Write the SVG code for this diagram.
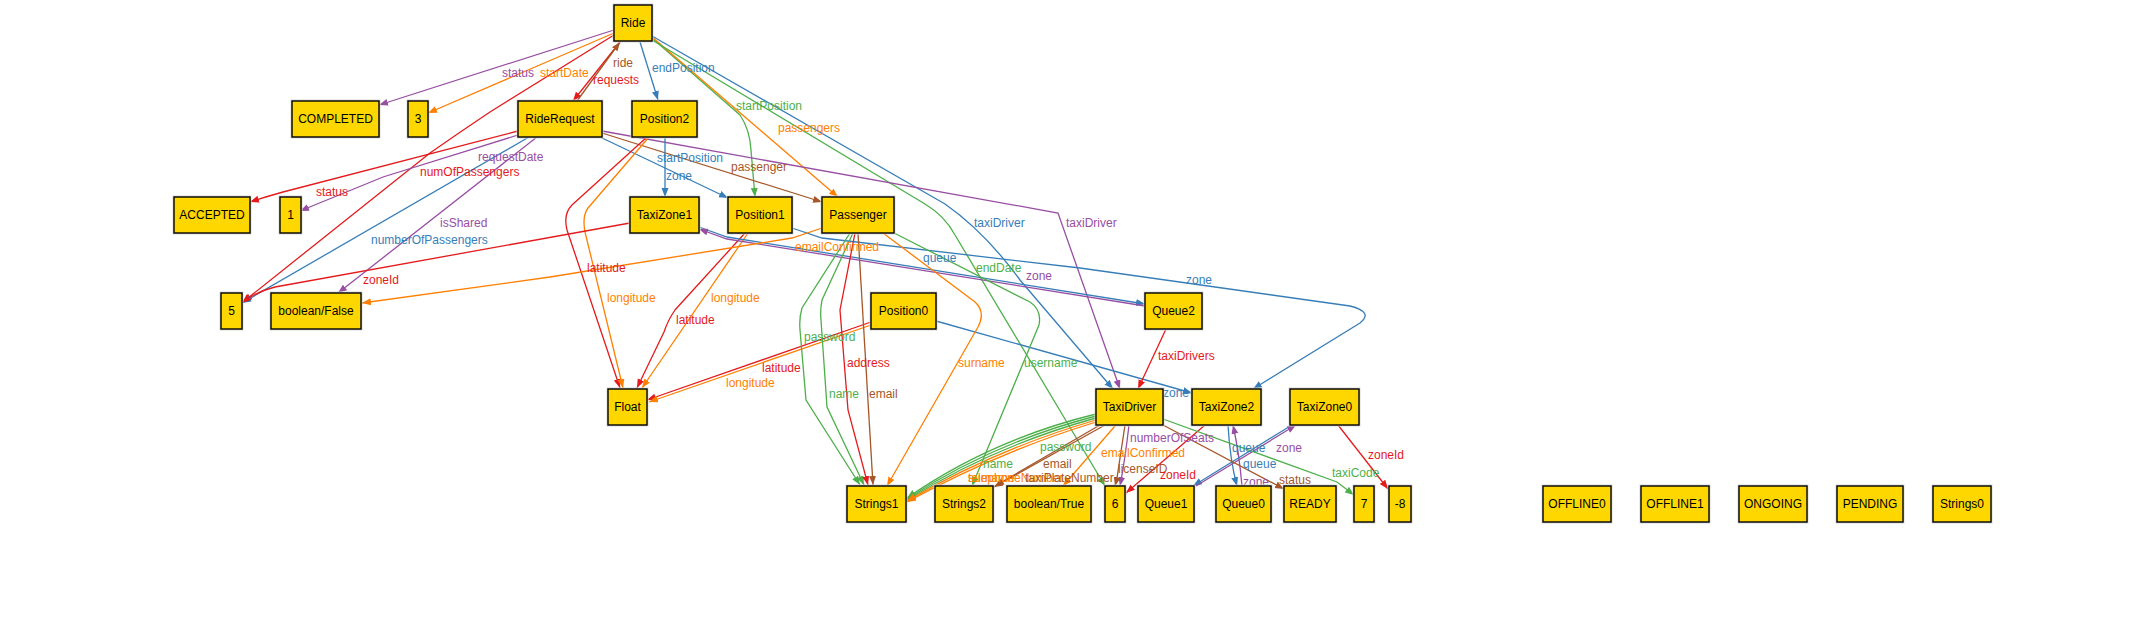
<svg xmlns="http://www.w3.org/2000/svg" width="2135" height="622" viewBox="0 0 2135 622">
<style>
.n rect.sh{fill:none;stroke:#d8d8d8;stroke-width:3}
.n rect.bx{fill:#FFD700;stroke:#000;stroke-width:1.4}
.n text{font-family:"Liberation Sans",Arial,sans-serif;font-size:12px;fill:#000;text-anchor:middle}
.e path{fill:none;stroke-width:1.3}
.l{font-family:"Liberation Sans",Arial,sans-serif;font-size:12px}
.pu{stroke:#984EA3}.or{stroke:#FF7F00}.re{stroke:#E41A1C}.bl{stroke:#377EB8}.gr{stroke:#4DAF4A}.br{stroke:#A65628}
.tpu{fill:#984EA3}.tor{fill:#FF7F00}.tre{fill:#E41A1C}.tbl{fill:#377EB8}.tgr{fill:#4DAF4A}.tbr{fill:#A65628}
</style>
<defs>
<marker id="apu" markerUnits="userSpaceOnUse" markerWidth="10" markerHeight="8" refX="9" refY="3.5" orient="auto"><path d="M0,0 L9,3.5 L0,7 z" fill="#984EA3"/></marker>
<marker id="aor" markerUnits="userSpaceOnUse" markerWidth="10" markerHeight="8" refX="9" refY="3.5" orient="auto"><path d="M0,0 L9,3.5 L0,7 z" fill="#FF7F00"/></marker>
<marker id="are" markerUnits="userSpaceOnUse" markerWidth="10" markerHeight="8" refX="9" refY="3.5" orient="auto"><path d="M0,0 L9,3.5 L0,7 z" fill="#E41A1C"/></marker>
<marker id="abl" markerUnits="userSpaceOnUse" markerWidth="10" markerHeight="8" refX="9" refY="3.5" orient="auto"><path d="M0,0 L9,3.5 L0,7 z" fill="#377EB8"/></marker>
<marker id="agr" markerUnits="userSpaceOnUse" markerWidth="10" markerHeight="8" refX="9" refY="3.5" orient="auto"><path d="M0,0 L9,3.5 L0,7 z" fill="#4DAF4A"/></marker>
<marker id="abr" markerUnits="userSpaceOnUse" markerWidth="10" markerHeight="8" refX="9" refY="3.5" orient="auto"><path d="M0,0 L9,3.5 L0,7 z" fill="#A65628"/></marker>
</defs>
<rect width="2135" height="622" fill="#fff"/>

<g id="connectors" class="e">
<path class="pu" marker-end="url(#apu)" d="M614,30 L379,105"/>
<path class="or" marker-end="url(#aor)" d="M614,33 L428,113"/>
<path class="re" marker-end="url(#are)" d="M620,42 L573,101"/>
<path class="br" marker-end="url(#abr)" d="M577,101 L620,42"/>
<path class="re" marker-end="url(#are)" d="M614,35 L490,112 Q460,132 430,153 L243,302"/>
<path class="bl" marker-end="url(#abl)" d="M640,42 L658,100"/>
<path class="gr" marker-end="url(#agr)" d="M652,38 L740,115 Q750,130 751,150 L755,197"/>
<path class="or" marker-end="url(#aor)" d="M652,37 L838,197"/>
<path class="bl" marker-end="url(#abl)" d="M652,36 L945,204 Q985,232 1020,280 L1113,389"/>
<path class="gr" marker-end="url(#agr)" d="M652,40 L925,204 Q945,216 955,235 L1105,486"/>
<path class="re" marker-end="url(#are)" d="M518,131 L283,192 Q265,197 250,202"/>
<path class="pu" marker-end="url(#apu)" d="M518,135 L383,177 L300,211"/>
<path class="bl" marker-end="url(#abl)" d="M529,137 L242,303"/>
<path class="pu" marker-end="url(#apu)" d="M537,137 L338,293"/>
<path class="bl" marker-end="url(#abl)" d="M600,137 L728,198"/>
<path class="br" marker-end="url(#abr)" d="M602,133 L822,202"/>
<path class="pu" marker-end="url(#apu)" d="M602,131 L1058,213 L1120,389"/>
<path class="bl" marker-end="url(#abl)" d="M665,137 L665,197"/>
<path class="re" marker-end="url(#are)" d="M647,137 L572,205 Q563,214 567,230 L620,388"/>
<path class="or" marker-end="url(#aor)" d="M649,137 L588,208 Q582,216 585,232 L623,388"/>
<path class="re" marker-end="url(#are)" d="M745,233 L675,310 Q668,320 664,332 L637,388"/>
<path class="or" marker-end="url(#aor)" d="M748,233 L642,388"/>
<path class="re" marker-end="url(#are)" d="M871,322 L647,400"/>
<path class="or" marker-end="url(#aor)" d="M871,325 L649,402"/>
<path class="bl" marker-end="url(#abl)" d="M936,321 L1192,393"/>
<path class="bl" marker-end="url(#abl)" d="M792,228 L822,238 L1080,268 L1350,306 Q1374,312 1360,323 L1253,389"/>
<path class="bl" marker-end="url(#abl)" d="M699,227 L727,237 L1145,304"/>
<path class="pu" marker-end="url(#apu)" d="M1145,306 L727,239 L699,229"/>
<path class="re" marker-end="url(#are)" d="M1166,329 L1138,389"/>
<path class="bl" marker-end="url(#abl)" d="M1228,425 Q1230,460 1237,486"/>
<path class="pu" marker-end="url(#apu)" d="M1242,486 Q1239,452 1233,425"/>
<path class="bl" marker-end="url(#abl)" d="M1292,425 L1193,486"/>
<path class="pu" marker-end="url(#apu)" d="M1196,486 L1296,425"/>
<path class="re" marker-end="url(#are)" d="M1338,425 L1388,489"/>
<path class="re" marker-end="url(#are)" d="M1205,425 L1126,493"/>
<path class="re" marker-end="url(#are)" d="M630,223 L275,287 Q255,292 242,303"/>
<path class="or" marker-end="url(#aor)" d="M822,228 L792,238 L550,277 L362,303"/>
<path class="gr" marker-end="url(#agr)" d="M850,233 L802,308 Q799,318 800,330 L806,400 L860,485"/>
<path class="gr" marker-end="url(#agr)" d="M853,233 L822,300 Q820,310 821,320 L827,407 L864,485"/>
<path class="re" marker-end="url(#are)" d="M855,233 L840,310 L848,410 L868,485"/>
<path class="br" marker-end="url(#abr)" d="M858,233 L873,485"/>
<path class="or" marker-end="url(#aor)" d="M883,233 L975,302 Q986,312 978,327 L887,486"/>
<path class="gr" marker-end="url(#agr)" d="M894,233 L1030,302 Q1042,310 1039,325 L972,486"/>
<path class="gr" marker-end="url(#agr)" d="M1096,414 Q990,440 907,498"/>
<path class="gr" marker-end="url(#agr)" d="M1096,416 Q992,443 907,499"/>
<path class="gr" marker-end="url(#agr)" d="M1096,418 Q994,446 907,500"/>
<path class="or" marker-end="url(#aor)" d="M1096,420 Q996,449 907,501"/>
<path class="or" marker-end="url(#aor)" d="M1096,422 Q998,452 907,502"/>
<path class="br" marker-end="url(#abr)" d="M1100,425 L995,486"/>
<path class="br" marker-end="url(#abr)" d="M1105,425 L994,487"/>
<path class="or" marker-end="url(#aor)" d="M1115,426 L1063,486"/>
<path class="pu" marker-end="url(#apu)" d="M1129,425 Q1125,460 1120,486"/>
<path class="br" marker-end="url(#abr)" d="M1125,425 L1117,478 L1115,486"/>
<path class="br" marker-end="url(#abr)" d="M1163,425 L1284,489"/>
<path class="gr" marker-end="url(#agr)" d="M1163,419 L1337,482 L1354,495"/>
</g>

<g id="edge-labels" class="l">
<text class="tpu" x="502" y="77">status</text>
<text class="tor" x="540" y="77">startDate</text>
<text class="tbr" x="613" y="67">ride</text>
<text class="tre" x="593" y="84">requests</text>
<text class="tbl" x="652" y="72">endPosition</text>
<text class="tgr" x="736" y="110">startPosition</text>
<text class="tor" x="778" y="132">passengers</text>
<text class="tre" x="420" y="176">numOfPassengers</text>
<text class="tpu" x="478" y="161">requestDate</text>
<text class="tre" x="316" y="196">status</text>
<text class="tbl" x="657" y="162">startPosition</text>
<text class="tbl" x="666" y="180">zone</text>
<text class="tbr" x="731" y="171">passenger</text>
<text class="tpu" x="440" y="227">isShared</text>
<text class="tbl" x="371" y="244">numberOfPassengers</text>
<text class="tbl" x="974" y="227">taxiDriver</text>
<text class="tpu" x="1066" y="227">taxiDriver</text>
<text class="tor" x="795" y="251">emailConfirmed</text>
<text class="tbl" x="923" y="262">queue</text>
<text class="tgr" x="976" y="272">endDate</text>
<text class="tpu" x="1026" y="280">zone</text>
<text class="tbl" x="1186" y="284">zone</text>
<text class="tre" x="363" y="284">zoneId</text>
<text class="tre" x="587" y="272">latitude</text>
<text class="tor" x="607" y="302">longitude</text>
<text class="tor" x="711" y="302">longitude</text>
<text class="tre" x="676" y="324">latitude</text>
<text class="tgr" x="804" y="341">password</text>
<text class="tre" x="847" y="367">address</text>
<text class="tor" x="958" y="367">surname</text>
<text class="tgr" x="1024" y="367">username</text>
<text class="tre" x="1158" y="360">taxiDrivers</text>
<text class="tre" x="762" y="372">latitude</text>
<text class="tor" x="726" y="387">longitude</text>
<text class="tgr" x="829" y="398">name</text>
<text class="tbr" x="869" y="398">email</text>
<text class="tbl" x="1163" y="397">zone</text>
<text class="tpu" x="1130" y="442">numberOfSeats</text>
<text class="tgr" x="1040" y="451">password</text>
<text class="tor" x="1101" y="457">emailConfirmed</text>
<text class="tbl" x="1232" y="452">queue</text>
<text class="tpu" x="1276" y="452">zone</text>
<text class="tre" x="1368" y="459">zoneId</text>
<text class="tgr" x="983" y="468">name</text>
<text class="tbr" x="1043" y="468">email</text>
<text class="tbl" x="1243" y="468">queue</text>
<text class="tbr" x="1118" y="473">licenseID</text>
<text class="tgr" x="1332" y="477">taxiCode</text>
<text class="tre" x="1160" y="479">zoneId</text>
<text class="tor" x="968" y="482">surname</text>
<text class="tor" x="968" y="482">telephoneNumber</text>
<text class="tbr" x="1025" y="482">taxiPlateNumber</text>
<text class="tpu" x="1243" y="486">zone</text>
<text class="tbr" x="1279" y="484">status</text>
</g>

<g id="n-Ride" class="n"><rect class="sh" x="614" y="5" width="38" height="36"/><rect class="bx" x="614" y="5" width="38" height="36"/><text x="633" y="27">Ride</text></g>
<g id="n-COMPLETED" class="n"><rect class="sh" x="292" y="101" width="87" height="36"/><rect class="bx" x="292" y="101" width="87" height="36"/><text x="335.5" y="123">COMPLETED</text></g>
<g id="n-3" class="n"><rect class="sh" x="408" y="101" width="20" height="36"/><rect class="bx" x="408" y="101" width="20" height="36"/><text x="418" y="123">3</text></g>
<g id="n-RideRequest" class="n"><rect class="sh" x="518" y="101" width="84" height="36"/><rect class="bx" x="518" y="101" width="84" height="36"/><text x="560" y="123">RideRequest</text></g>
<g id="n-Position2" class="n"><rect class="sh" x="632" y="101" width="65" height="36"/><rect class="bx" x="632" y="101" width="65" height="36"/><text x="664.5" y="123">Position2</text></g>
<g id="n-ACCEPTED" class="n"><rect class="sh" x="174" y="197" width="76" height="36"/><rect class="bx" x="174" y="197" width="76" height="36"/><text x="212" y="219">ACCEPTED</text></g>
<g id="n-1" class="n"><rect class="sh" x="280" y="197" width="21" height="36"/><rect class="bx" x="280" y="197" width="21" height="36"/><text x="290.5" y="219">1</text></g>
<g id="n-TaxiZone1" class="n"><rect class="sh" x="630" y="197" width="69" height="36"/><rect class="bx" x="630" y="197" width="69" height="36"/><text x="664.5" y="219">TaxiZone1</text></g>
<g id="n-Position1" class="n"><rect class="sh" x="728" y="197" width="64" height="36"/><rect class="bx" x="728" y="197" width="64" height="36"/><text x="760" y="219">Position1</text></g>
<g id="n-Passenger" class="n"><rect class="sh" x="822" y="197" width="72" height="36"/><rect class="bx" x="822" y="197" width="72" height="36"/><text x="858" y="219">Passenger</text></g>
<g id="n-5" class="n"><rect class="sh" x="221" y="293" width="21" height="36"/><rect class="bx" x="221" y="293" width="21" height="36"/><text x="231.5" y="315">5</text></g>
<g id="n-booleanFalse" class="n"><rect class="sh" x="271" y="293" width="90" height="36"/><rect class="bx" x="271" y="293" width="90" height="36"/><text x="316" y="315">boolean/False</text></g>
<g id="n-Position0" class="n"><rect class="sh" x="871" y="293" width="65" height="36"/><rect class="bx" x="871" y="293" width="65" height="36"/><text x="903.5" y="315">Position0</text></g>
<g id="n-Queue2" class="n"><rect class="sh" x="1145" y="293" width="57" height="36"/><rect class="bx" x="1145" y="293" width="57" height="36"/><text x="1173.5" y="315">Queue2</text></g>
<g id="n-Float" class="n"><rect class="sh" x="608" y="389" width="39" height="36"/><rect class="bx" x="608" y="389" width="39" height="36"/><text x="627.5" y="411">Float</text></g>
<g id="n-TaxiDriver" class="n"><rect class="sh" x="1096" y="389" width="67" height="36"/><rect class="bx" x="1096" y="389" width="67" height="36"/><text x="1129.5" y="411">TaxiDriver</text></g>
<g id="n-TaxiZone2" class="n"><rect class="sh" x="1192" y="389" width="69" height="36"/><rect class="bx" x="1192" y="389" width="69" height="36"/><text x="1226.5" y="411">TaxiZone2</text></g>
<g id="n-TaxiZone0" class="n"><rect class="sh" x="1290" y="389" width="69" height="36"/><rect class="bx" x="1290" y="389" width="69" height="36"/><text x="1324.5" y="411">TaxiZone0</text></g>
<g id="n-Strings1" class="n"><rect class="sh" x="847" y="486" width="59" height="36"/><rect class="bx" x="847" y="486" width="59" height="36"/><text x="876.5" y="508">Strings1</text></g>
<g id="n-Strings2" class="n"><rect class="sh" x="935" y="486" width="58" height="36"/><rect class="bx" x="935" y="486" width="58" height="36"/><text x="964" y="508">Strings2</text></g>
<g id="n-booleanTrue" class="n"><rect class="sh" x="1007" y="486" width="84" height="36"/><rect class="bx" x="1007" y="486" width="84" height="36"/><text x="1049" y="508">boolean/True</text></g>
<g id="n-6" class="n"><rect class="sh" x="1105" y="486" width="20" height="36"/><rect class="bx" x="1105" y="486" width="20" height="36"/><text x="1115" y="508">6</text></g>
<g id="n-Queue1" class="n"><rect class="sh" x="1138" y="486" width="56" height="36"/><rect class="bx" x="1138" y="486" width="56" height="36"/><text x="1166" y="508">Queue1</text></g>
<g id="n-Queue0" class="n"><rect class="sh" x="1216" y="486" width="55" height="36"/><rect class="bx" x="1216" y="486" width="55" height="36"/><text x="1243.5" y="508">Queue0</text></g>
<g id="n-READY" class="n"><rect class="sh" x="1284" y="486" width="52" height="36"/><rect class="bx" x="1284" y="486" width="52" height="36"/><text x="1310" y="508">READY</text></g>
<g id="n-7" class="n"><rect class="sh" x="1354" y="486" width="20" height="36"/><rect class="bx" x="1354" y="486" width="20" height="36"/><text x="1364" y="508">7</text></g>
<g id="n-m8" class="n"><rect class="sh" x="1389" y="486" width="22" height="36"/><rect class="bx" x="1389" y="486" width="22" height="36"/><text x="1400" y="508">-8</text></g>
<g id="n-OFFLINE0" class="n"><rect class="sh" x="1543" y="486" width="68" height="36"/><rect class="bx" x="1543" y="486" width="68" height="36"/><text x="1577" y="508">OFFLINE0</text></g>
<g id="n-OFFLINE1" class="n"><rect class="sh" x="1641" y="486" width="68" height="36"/><rect class="bx" x="1641" y="486" width="68" height="36"/><text x="1675" y="508">OFFLINE1</text></g>
<g id="n-ONGOING" class="n"><rect class="sh" x="1739" y="486" width="68" height="36"/><rect class="bx" x="1739" y="486" width="68" height="36"/><text x="1773" y="508">ONGOING</text></g>
<g id="n-PENDING" class="n"><rect class="sh" x="1837" y="486" width="66" height="36"/><rect class="bx" x="1837" y="486" width="66" height="36"/><text x="1870" y="508">PENDING</text></g>
<g id="n-Strings0" class="n"><rect class="sh" x="1933" y="486" width="58" height="36"/><rect class="bx" x="1933" y="486" width="58" height="36"/><text x="1962" y="508">Strings0</text></g>
</svg>
